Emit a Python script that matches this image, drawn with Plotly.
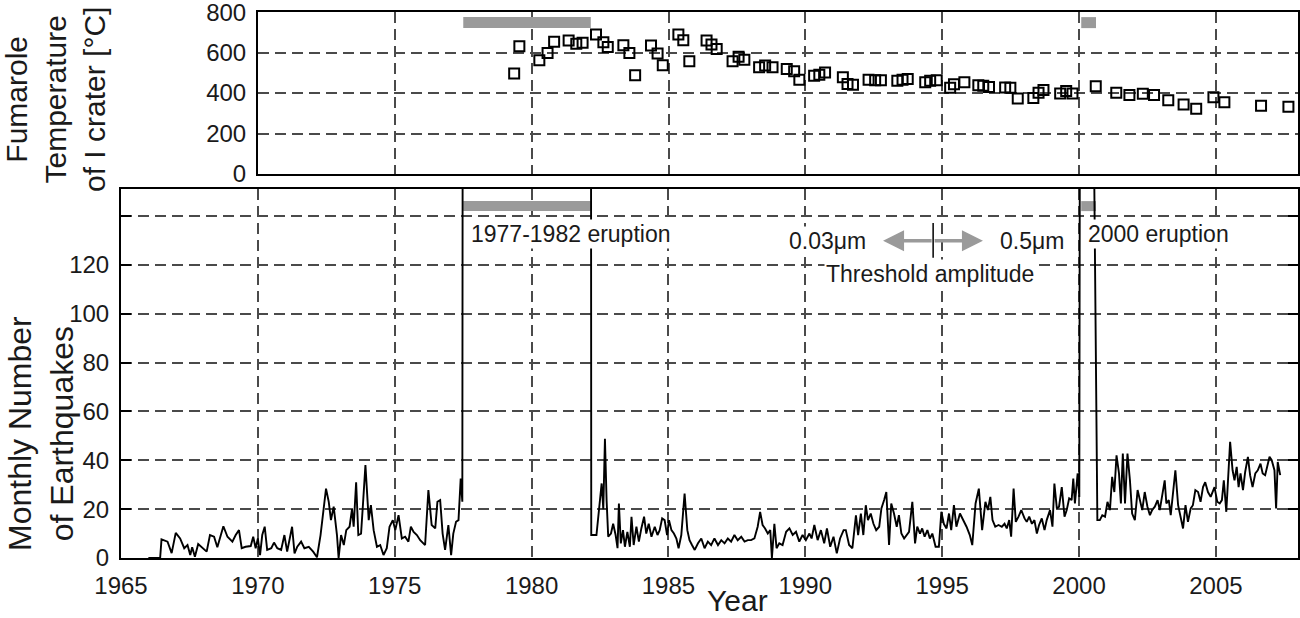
import plotly.graph_objects as go

# ---------------- data ----------------
# Fumarole temperature of I crater (top panel)
temp_year = [1979.36, 1979.55, 1980.28, 1980.58, 1980.82, 1981.35, 1981.63, 1981.86, 1982.35, 1982.62,
             1982.78, 1983.35, 1983.57, 1983.78, 1984.36, 1984.60, 1984.79, 1985.36, 1985.54, 1985.76,
             1986.39, 1986.57, 1986.76, 1987.34, 1987.56, 1987.77, 1988.31, 1988.53, 1988.80, 1989.32,
             1989.59, 1989.78, 1990.32, 1990.51, 1990.72, 1991.37, 1991.54, 1991.74, 1992.31, 1992.55,
             1992.76, 1993.36, 1993.55, 1993.74, 1994.38, 1994.56, 1994.80, 1995.29, 1995.43, 1995.81,
             1996.32, 1996.50, 1996.71, 1997.30, 1997.49, 1997.76, 1998.33, 1998.52, 1998.70, 1999.31,
             1999.53, 1999.76, 2000.61, 2001.36, 2001.84, 2002.33, 2002.74, 2003.26, 2003.82, 2004.28,
             2004.91, 2005.31, 2006.65, 2007.65]
temp_c = [496, 631, 562, 598, 653, 660, 643, 648, 689, 651,
          627, 636, 598, 488, 635, 595, 537, 689, 661, 557,
          660, 640, 618, 557, 579, 565, 527, 536, 527, 519,
          508, 466, 486, 491, 502, 478, 445, 441, 466, 463,
          463, 461, 466, 470, 453, 461, 463, 426, 443, 453,
          438, 436, 430, 428, 426, 373, 376, 401, 415, 398,
          410, 398, 433, 401, 390, 397, 390, 365, 343, 323,
          379, 355, 337, 332]

# Monthly number of earthquakes (bottom panel); None = eruption period (off scale)
quake_year = [
    1966.00, 1966.43, 1966.48, 1966.70, 1966.85, 1967.00, 1967.16, 1967.31, 1967.43, 1967.53,
    1967.60, 1967.70, 1967.82, 1967.98, 1968.13, 1968.25, 1968.40, 1968.52, 1968.74, 1968.89,
    1969.07, 1969.19, 1969.31, 1969.41, 1969.55, 1969.74, 1969.83, 1969.92, 1970.00, 1970.08,
    1970.16, 1970.25, 1970.34, 1970.49, 1970.59, 1970.71, 1970.85, 1970.97, 1971.07, 1971.25,
    1971.34, 1971.44, 1971.58, 1971.70, 1971.86, 1972.02, 1972.16, 1972.29, 1972.38, 1972.49,
    1972.59, 1972.67, 1972.77, 1972.89, 1972.95, 1973.04, 1973.14, 1973.23, 1973.35, 1973.44,
    1973.50, 1973.59, 1973.67, 1973.77, 1973.84, 1973.93, 1974.05, 1974.13, 1974.23, 1974.35,
    1974.47, 1974.59, 1974.71, 1974.81, 1974.93, 1975.02, 1975.14, 1975.26, 1975.38, 1975.50,
    1975.59, 1975.69, 1975.81, 1975.93, 1976.11, 1976.23, 1976.35, 1976.48, 1976.56, 1976.66,
    1976.75, 1976.84, 1976.96, 1977.06, 1977.14, 1977.24, 1977.33, 1977.41, 1977.47, 1977.50,
    None,
    1982.16, 1982.18, 1982.37, 1982.50, 1982.56, 1982.62, 1982.68, 1982.74, 1982.80, 1982.90,
    1982.98, 1983.07, 1983.14, 1983.19, 1983.26, 1983.34, 1983.41, 1983.50, 1983.59, 1983.65,
    1983.73, 1983.83, 1983.92, 1984.01, 1984.11, 1984.19, 1984.28, 1984.38, 1984.50, 1984.60,
    1984.68, 1984.77, 1984.86, 1984.95, 1985.02, 1985.11, 1985.20, 1985.29, 1985.37, 1985.47,
    1985.59, 1985.69, 1985.77, 1985.86, 1985.96, 1986.08, 1986.20, 1986.32, 1986.44, 1986.56,
    1986.68, 1986.81, 1986.93, 1987.05, 1987.17, 1987.29, 1987.41, 1987.53, 1987.66, 1987.78,
    1987.90, 1988.02, 1988.14, 1988.26, 1988.35, 1988.44, 1988.53, 1988.63, 1988.72, 1988.78,
    1988.87, 1988.95, 1989.05, 1989.17, 1989.30, 1989.42, 1989.54, 1989.66, 1989.78, 1989.90,
    1990.02, 1990.15, 1990.23, 1990.33, 1990.45, 1990.57, 1990.69, 1990.79, 1990.91, 1991.03,
    1991.15, 1991.27, 1991.40, 1991.48, 1991.60, 1991.72, 1991.85, 1991.93, 1992.03, 1992.12,
    1992.21, 1992.29, 1992.39, 1992.49, 1992.59, 1992.70, 1992.78, 1992.88, 1992.96, 1993.06,
    1993.14, 1993.24, 1993.34, 1993.42, 1993.51, 1993.61, 1993.70, 1993.79, 1993.91, 1994.01,
    1994.09, 1994.19, 1994.27, 1994.36, 1994.46, 1994.55, 1994.64, 1994.76, 1994.88, 1994.97,
    1995.06, 1995.16, 1995.25, 1995.33, 1995.43, 1995.52, 1995.65, 1995.77, 1995.89, 1996.01,
    1996.10, 1996.22, 1996.34, 1996.46, 1996.58, 1996.67, 1996.76, 1996.84, 1996.94, 1997.06,
    1997.18, 1997.28, 1997.36, 1997.45, 1997.52, 1997.61, 1997.69, 1997.79, 1997.89, 1998.01,
    1998.09, 1998.18, 1998.28, 1998.37, 1998.46, 1998.54, 1998.64, 1998.74, 1998.82, 1998.94,
    1999.03, 1999.10, 1999.19, 1999.27, 1999.37, 1999.47, 1999.55, 1999.64, 1999.73, 1999.79,
    1999.85, 1999.95, 2000.01, 2000.06,
    None,
    2000.52, 2000.67, 2000.76, 2000.85, 2000.95, 2001.04, 2001.13, 2001.21, 2001.29, 2001.37,
    2001.46, 2001.53, 2001.60, 2001.68, 2001.77, 2001.86, 2001.94, 2002.04, 2002.14, 2002.22,
    2002.31, 2002.40, 2002.50, 2002.59, 2002.67, 2002.77, 2002.87, 2002.95, 2003.04, 2003.13,
    2003.19, 2003.28, 2003.35, 2003.44, 2003.52, 2003.62, 2003.72, 2003.80, 2003.89, 2003.98,
    2004.08, 2004.16, 2004.25, 2004.35, 2004.44, 2004.53, 2004.61, 2004.71, 2004.81, 2004.89,
    2004.95, 2005.05, 2005.14, 2005.22, 2005.29, 2005.38, 2005.44, 2005.52, 2005.61, 2005.68,
    2005.76, 2005.83, 2005.90, 2005.99, 2006.07, 2006.17, 2006.25, 2006.34, 2006.44, 2006.53,
    2006.63, 2006.71, 2006.80, 2006.87, 2006.96, 2007.04, 2007.14, 2007.20, 2007.26, 2007.35,
]
quake_count = [
    0, 0, 7.6, 6.7, 2, 10.3, 8, 4, 5.3, 1.2,
    4.4, 0.5, 5.7, 4, 2.6, 9.4, 8.7, 4.4, 13, 8.7,
    6.7, 9.4, 11.4, 4, 4.6, 4.9, 8.7, 4, 8, 1.2,
    9.4, 12.8, 3.3, 4, 6.3, 4, 3.3, 9.4, 2.6, 12.8,
    1.9, 4.6, 6.7, 4, 4.6, 2.6, 0.3, 9.4, 18, 28.4,
    23, 15.5, 21, 9.4, 0, 9.4, 5.3, 11.4, 12.8, 20,
    12.8, 31, 9.4, 10, 22, 38, 15.5, 21.6, 11.4, 4.6,
    5.3, 1.2, 4, 12.8, 15.5, 11.4, 17.5, 8, 8.7, 6.7,
    12.8, 10.7, 9.4, 7.3, 5.3, 27.8, 13.5, 12.1, 23, 23.7,
    10, 3.3, 13.5, 1.2, 10, 14.8, 15.5, 32.5, 23, 400,
    None,
    400, 9.4, 9.4, 25, 30.5, 20, 48.8, 23.7, 8.7, 10,
    14, 9.4, 4, 22.3, 6, 11.4, 4.6, 10.7, 4.6, 16.9,
    5.3, 12.8, 6.7, 12.1, 16.9, 10, 14, 8.7, 12.8, 9.4,
    11.4, 16.2, 15.5, 9.4, 15.5, 11.4, 10, 8, 4, 9.4,
    26.4, 11.4, 7.3, 5.3, 3.3, 6, 8, 4, 6.7, 5.3,
    8, 5.3, 7.3, 6, 8, 6.7, 9.4, 7.3, 8.7, 6.7,
    7.3, 7.3, 8, 12.8, 18.9, 13.5, 12.1, 10, 11.4, 0,
    14, 4, 6, 5.3, 10.7, 12.1, 9.4, 10.7, 6.7, 9.4,
    7.3, 10, 8, 13.5, 7.3, 11.4, 6, 12.1, 4.6, 8.7,
    1.9, 8, 11.4, 11.4, 5.3, 4, 17.5, 9.4, 18.2, 9.4,
    21.6, 15.5, 18.2, 14, 11.4, 12.8, 20.3, 23.7, 27, 5.3,
    22.3, 18.2, 12.8, 17.5, 10, 8, 9.4, 10.7, 23, 6,
    12.8, 10, 12.1, 8.7, 11.4, 8, 10, 4.6, 4.6, 18.9,
    14, 12.1, 18.2, 11.4, 21.6, 12.8, 18.2, 15.5, 12.8, 9.4,
    5.3, 22.3, 28.4, 11.4, 23, 19.6, 25, 15.5, 12.8, 13.5,
    12.8, 14, 12.1, 15.5, 8.7, 28.4, 14.8, 16.9, 19.6, 16.2,
    14.8, 16.9, 14, 15.5, 10, 13.5, 16.2, 11.4, 15.5, 19.6,
    12.8, 30.5, 20.3, 21, 29, 16.9, 19.6, 24.4, 23.7, 32.5,
    22.3, 34.6, 25, 400,
    None,
    200, 15.5, 15.5, 17.5, 16.9, 23, 19.6, 33.2, 27, 42,
    34.6, 22.3, 42.7, 22.3, 42.7, 31.8, 18.2, 15.5, 27.8, 23.7,
    19.6, 27, 21, 17.5, 19.6, 21, 23.7, 19.6, 26.4, 31.8,
    22.3, 23.7, 17.5, 26.4, 35.9, 21.6, 16.9, 12.1, 21.6, 14.8,
    20.3, 21.6, 27.8, 27, 23, 29, 31, 27, 25, 27,
    29, 23, 22.3, 23.7, 31.8, 18.9, 31.8, 47.5, 35.9, 31.8,
    37.3, 29, 34.6, 27.8, 35.2, 41.4, 33.9, 29, 34.6, 35.9,
    38.6, 34.6, 33.9, 37.3, 41.4, 40, 35.9, 20.3, 39.3, 33.9,
]

# eruption periods (gray bars)
eruption_start = [1977.50, 2000.08]
eruption_end = [1982.16, 2000.62]
bar_level_temp = 748
bar_level_quake = 144

x_ticks = [1965, 1970, 1975, 1980, 1985, 1990, 1995, 2000, 2005]
temp_ticks = [0, 200, 400, 600, 800]
quake_ticks = [0, 20, 40, 60, 80, 100, 120, 140]
quake_ticklabels = ["0", "20", "40", "60", "80", "100", "120", ""]

# ---------------- figure ----------------
W, H = 1300, 618
FONT = "Liberation Sans, Arial, Helvetica, sans-serif"
INK = "#1a1a1a"
GRID = "#4a4a4a"
BAR = "#9a9a9a"

def px_x(p):
    return p / W

def px_y(p):
    return 1 - p / H

bar_x, bar_yt, bar_yq = [], [], []
for s, e in zip(eruption_start, eruption_end):
    bar_x += [s, e, None]
    bar_yt += [bar_level_temp, bar_level_temp, None]
    bar_yq += [bar_level_quake, bar_level_quake, None]

fig = go.Figure()
fig.add_trace(go.Scatter(x=bar_x, y=bar_yt, mode="lines", xaxis="x2", yaxis="y2",
                         line=dict(color=BAR, width=11), hoverinfo="skip"))
fig.add_trace(go.Scatter(x=temp_year, y=temp_c, mode="markers", xaxis="x2", yaxis="y2",
                         marker=dict(symbol="square-open", size=10, color="black",
                                     line=dict(color="black", width=2))))
fig.add_trace(go.Scatter(x=bar_x, y=bar_yq, mode="lines", xaxis="x", yaxis="y",
                         line=dict(color=BAR, width=10), hoverinfo="skip"))
fig.add_trace(go.Scatter(x=quake_year, y=quake_count, mode="lines", xaxis="x", yaxis="y",
                         connectgaps=False, line=dict(color="black", width=1.9)))

axis_common = dict(showline=True, linecolor="black", linewidth=2, mirror=True,
                   showgrid=True, gridcolor=GRID, gridwidth=1.7, griddash="11px,6px",
                   zeroline=False, automargin=False, ticklabeloverflow="allow",
                   tickfont=dict(family=FONT, size=24, color=INK))

fig.update_layout(
    width=W, height=H,
    margin=dict(l=0, r=0, t=0, b=0),
    paper_bgcolor="white", plot_bgcolor="white",
    showlegend=False,
    font=dict(family=FONT, color=INK),
    xaxis=dict(axis_common, domain=[px_x(121), px_x(1298)], range=[1965, 2008],
               tickvals=x_ticks, ticks="", anchor="y", ticklabelstandoff=5),
    yaxis=dict(axis_common, domain=[px_y(558), px_y(189)], range=[0, 151],
               tickvals=quake_ticks, ticktext=quake_ticklabels,
               ticks="inside", ticklen=10, tickwidth=2, tickcolor="black",
               mirror="ticks", anchor="x", ticklabelstandoff=5),
    xaxis2=dict(axis_common, domain=[px_x(258), px_x(1298)], range=[1970, 2008],
                tickvals=x_ticks, ticks="", showticklabels=False, anchor="y2"),
    yaxis2=dict(axis_common, domain=[px_y(174), px_y(12)], range=[0, 800.5],
                tickvals=temp_ticks, ticks="", anchor="x2", ticklabelstandoff=5),
)

ann_font = dict(family=FONT, size=23, color=INK)
title_font = dict(family=FONT, size=30, color=INK)
title_font_b = dict(family=FONT, size=32, color=INK)

annotations = [
    dict(text="1977-1982 eruption", x=1977.73, y=132.7, xref="x", yref="y",
         xanchor="left", yanchor="middle", showarrow=False, font=ann_font, bgcolor="white"),
    dict(text="2000 eruption", x=2000.27, y=132.7, xref="x", yref="y",
         xanchor="left", yanchor="middle", showarrow=False, font=ann_font, bgcolor="white"),
    dict(text="0.03μm", x=1992.3, y=129.8, xref="x", yref="y",
         xanchor="right", yanchor="middle", showarrow=False, font=ann_font, bgcolor="white"),
    dict(text="0.5μm", x=1997.05, y=129.8, xref="x", yref="y",
         xanchor="left", yanchor="middle", showarrow=False, font=ann_font, bgcolor="white"),
    dict(text="Threshold amplitude", x=1994.56, y=116.3, xref="x", yref="y",
         xanchor="center", yanchor="middle", showarrow=False, font=ann_font, bgcolor="white"),
    # gray double arrow
    dict(text="", x=1992.84, y=129.8, ax=1994.67, ay=129.8, xref="x", yref="y",
         axref="x", ayref="y", showarrow=True, arrowhead=2, arrowsize=1.2,
         arrowwidth=3.5, arrowcolor=BAR),
    dict(text="", x=1996.49, y=129.8, ax=1994.67, ay=129.8, xref="x", yref="y",
         axref="x", ayref="y", showarrow=True, arrowhead=2, arrowsize=1.2,
         arrowwidth=3.5, arrowcolor=BAR),
    # axis titles
    dict(text="Fumarole<br>Temperature<br>of I crater [°C]", x=px_x(56), y=px_y(100),
         xref="paper", yref="paper", xanchor="center", yanchor="middle",
         textangle=-90, showarrow=False, font=title_font),
    dict(text="Monthly Number<br>of Earthquakes", x=px_x(41), y=px_y(434),
         xref="paper", yref="paper", xanchor="center", yanchor="middle",
         textangle=-90, showarrow=False, font=title_font_b),
    dict(text="Year", x=px_x(737), y=px_y(600), xref="paper", yref="paper",
         xanchor="center", yanchor="middle", showarrow=False, font=title_font),
]
fig.update_layout(annotations=annotations)

# small vertical marker at the centre of the threshold arrow
fig.add_shape(type="line", xref="x", yref="y", x0=1994.67, x1=1994.67, y0=122.9, y1=137.1,
              line=dict(color="black", width=1.5))

fig.write_html("out.html")
